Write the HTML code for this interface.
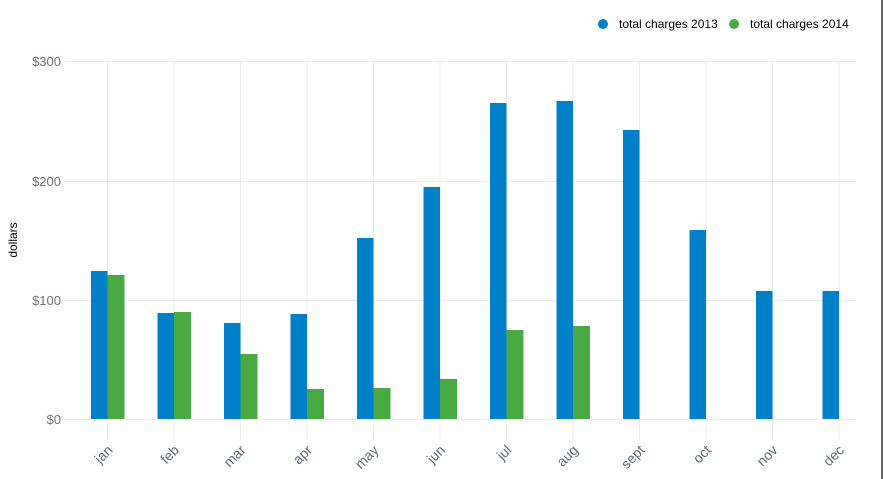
<!DOCTYPE html>
<html><head><style>body{margin:0;background:#fff;}svg{display:block;font-family:"Liberation Sans",sans-serif;}</style></head>
<body>
<svg width="884" height="479" viewBox="0 0 884 479">
<rect width="884" height="479" fill="#fff"/>
<line x1="882" y1="0" x2="882" y2="479" stroke="#333" stroke-width="1.5"/>
<g stroke="#ececec" stroke-width="1">
<line x1="63" y1="61.5" x2="856" y2="61.5"/>
<line x1="63" y1="181.5" x2="856" y2="181.5"/>
<line x1="63" y1="300.5" x2="856" y2="300.5"/>
<line x1="63" y1="419.5" x2="856" y2="419.5"/>
</g>
<g stroke="#ececec" stroke-width="1" id="vg"></g>
<g id="bars"></g>
<g font-size="13" fill="#7a6f78" text-anchor="end">
<text x="61" y="66">$300</text><text x="61" y="186">$200</text><text x="61" y="305">$100</text><text x="61" y="424">$0</text>
</g>
<text transform="translate(17,240) rotate(-90)" font-size="12" fill="#000" text-anchor="middle">dollars</text>
<g id="xl" font-size="14" fill="#5f6a7a"></g>
<circle cx="603" cy="24" r="5" fill="#0080c8"/>
<text x="619" y="28" font-size="12" fill="#000">total charges 2013</text>
<circle cx="734" cy="24" r="5" fill="#49aa43"/>
<text x="750" y="28" font-size="12" fill="#000">total charges 2014</text>
<script>
var ns="http://www.w3.org/2000/svg";
var b=[271,313,323,314,238,187,103,101,130,230,291,291];
var g=[275,312,354,389,388,379,330,326,null,null,null,null];
var m=["jan","feb","mar","apr","may","jun","jul","aug","sept","oct","nov","dec"];
var vg=document.getElementById("vg"),bars=document.getElementById("bars"),xl=document.getElementById("xl");
for(var i=0;i<12;i++){var c=107.5+66.5*i;
var l=document.createElementNS(ns,"line");l.setAttribute("x1",c);l.setAttribute("x2",c);l.setAttribute("y1",61);l.setAttribute("y2",440);vg.appendChild(l);
var r=document.createElementNS(ns,"rect");r.setAttribute("x",c-16.5);r.setAttribute("y",b[i]);r.setAttribute("width",16.5);r.setAttribute("height",419-b[i]);r.setAttribute("fill","#0080c8");bars.appendChild(r);
if(g[i]!==null){r=document.createElementNS(ns,"rect");r.setAttribute("x",c);r.setAttribute("y",g[i]);r.setAttribute("width",17);r.setAttribute("height",419-g[i]);r.setAttribute("fill","#49aa43");bars.appendChild(r);}
var t=document.createElementNS(ns,"text");t.setAttribute("text-anchor","end");t.setAttribute("transform","translate("+(c+6)+",451) rotate(-45)");t.textContent=m[i];xl.appendChild(t);}
</script>
</svg>
</body></html>
